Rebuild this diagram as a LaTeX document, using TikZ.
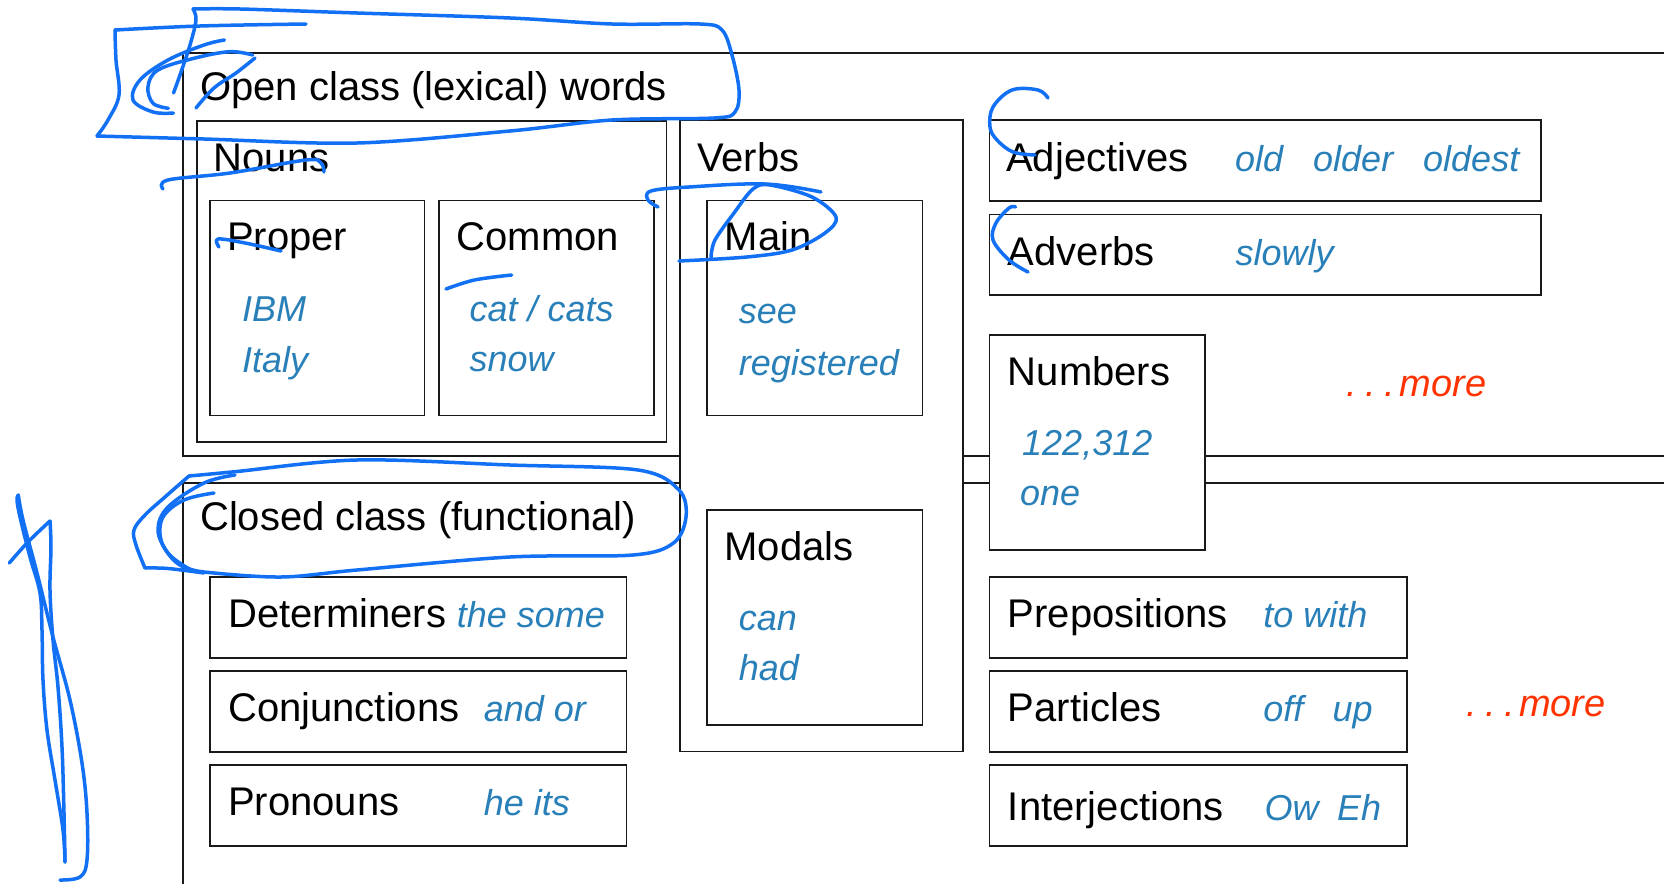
\documentclass[tikz,border=0pt]{standalone}
\usepackage{fontspec}
\setmainfont{Liberation Sans}
\definecolor{exblue}{RGB}{41,128,185}
\definecolor{penblue}{RGB}{18,112,245}
\definecolor{morered}{RGB}{255,51,0}
\tikzset{
  box/.style={draw=black!90, line width=1.6bp, fill=white, inner sep=0pt, outer sep=0pt, anchor=north west},
  frame/.style={draw=black!90, line width=1.6bp},
  lbl/.style={anchor=base west, inner sep=0pt, font=\fontsize{40bp}{48bp}\selectfont},
  ex/.style={anchor=base west, inner sep=0pt, text=exblue, font=\fontsize{36bp}{43bp}\selectfont\itshape},
  moretext/.style={anchor=base west, inner sep=0pt, text=morered, font=\fontsize{38bp}{45bp}\selectfont\itshape},
  pen/.style={draw=penblue, line width=3.5bp, line cap=round, line join=round},
}
\newcommand{\moredots}{.\hspace{0.22em}.\hspace{0.22em}.\hspace{0.12em}more}
\begin{document}
\begin{tikzpicture}[x=1bp,y=-1bp]
\fill[white] (0,0) rectangle (1664,883);
\useasboundingbox (0,0) rectangle (1664,883);

% outer class frames
\draw[frame] (1690,52.7) -- (183,52.7) -- (183,456) -- (1690,456);
\draw[frame] (1690,482.7) -- (183,482.7) -- (183,900);

% boxes
\node[box, minimum width=469.5bp, minimum height=320.7bp] (nouns) at (197,121) {};
\node[box, minimum width=214.5bp, minimum height=214.8bp] (proper) at (210,200.6) {};
\node[box, minimum width=215.2bp, minimum height=214.8bp] (common) at (438.8,200.6) {};
\node[box, minimum width=282.7bp, minimum height=631.3bp] (verbs) at (680,120) {};
\node[box, minimum width=215.3bp, minimum height=214.8bp] (main) at (707,200.6) {};
\node[box, minimum width=215.3bp, minimum height=215bp] (modals) at (707,510) {};
\node[box, minimum width=551.4bp, minimum height=81bp] (adj) at (989.3,120) {};
\node[box, minimum width=551.4bp, minimum height=80.7bp] (adv) at (989.3,214.3) {};
\node[box, minimum width=215.7bp, minimum height=215bp] (num) at (989.3,335) {};
\node[box, minimum width=417.5bp, minimum height=81bp] (prep) at (989.3,576.7) {};
\node[box, minimum width=417.5bp, minimum height=81bp] (part) at (989.3,670.7) {};
\node[box, minimum width=417.5bp, minimum height=81bp] (interj) at (989.3,765) {};
\node[box, minimum width=416.3bp, minimum height=81bp] (det) at (210.2,576.7) {};
\node[box, minimum width=416.3bp, minimum height=81bp] (conj) at (210.2,670.7) {};
\node[box, minimum width=416.3bp, minimum height=81bp] (pron) at (210.2,765) {};

% labels
\node[lbl] (tOpen) at (200,100.5) {Open class (lexical) words};
\node[lbl] (tNouns) at (213.5,171) {Nouns};
\node[lbl] (tVerbs) at (697,171) {Verbs};
\node[lbl] (tProper) at (227,250) {Proper};
\node[lbl] (tCommon) at (456.5,250) {Common};
\node[lbl] (tMain) at (724.5,250) {Main};
\node[ex] (eIBM) at (242,321.7) {IBM};
\node[ex] (eItaly) at (242,372.7) {Italy};
\node[ex] (eCat) at (469.4,321.7) {cat / cats};
\node[ex] (eSnow) at (469.4,371.7) {snow};
\node[ex] (eSee) at (738.6,323.3) {see};
\node[ex] (eReg) at (738.6,375) {registered};
\node[lbl] (tAdj) at (1006,171.7) {Adjectives};
\node[ex] (eOld) at (1235,171.7) {old};
\node[ex] (eOlder) at (1313,171.7) {older};
\node[ex] (eOldest) at (1423,171.7) {oldest};
\node[lbl] (tAdv) at (1007.7,265) {Adverbs};
\node[ex] (eSlowly) at (1235.4,265) {slowly};
\node[lbl] (tNum) at (1007.7,385) {Numbers};
\node[ex] (eNum) at (1022,455) {122,312};
\node[ex] (eOne) at (1020,505) {one};
\node[moretext] (more1) at (1346.7,396.7) {\moredots};
\node[lbl] (tClosed) at (200,530) {Closed class (functional)};
\node[lbl] (tDet) at (228,627) {Determiners};
\node[ex] (eDet) at (456.6,627) {the some};
\node[lbl] (tConj) at (228,721.7) {Conjunctions};
\node[ex] (eConj) at (483.7,721.7) {and or};
\node[lbl] (tPron) at (228,815) {Pronouns};
\node[ex] (ePron) at (483.7,815) {he its};
\node[lbl] (tModals) at (724.4,560) {Modals};
\node[ex] (eCan) at (738.6,630) {can};
\node[ex] (eHad) at (738.6,680) {had};
\node[lbl] (tPrep) at (1007.7,627) {Prepositions};
\node[ex] (ePrep) at (1263.2,627) {to with};
\node[lbl] (tPart) at (1007.7,721.7) {Particles};
\node[ex] (eOff) at (1263.2,721.7) {off};
\node[ex] (eUp) at (1332.4,721.7) {up};
\node[lbl] (tInterj) at (1007.7,820) {Interjections};
\node[ex] (eOw) at (1264.5,820) {Ow};
\node[ex] (eEh) at (1337,820) {Eh};
\node[moretext] (more2) at (1466,716.7) {\moredots};

% hand-drawn pen annotations
% open class loop
\draw[pen] plot[smooth, tension=0.6] coordinates {(173.5,93) (180,75) (190,45) (196,20) (193,9)};
\draw[pen] plot[smooth, tension=0.55] coordinates {(193,9) (240,9) (357,13) (510,18) (612,24) (700,24) (722,30) (732,55) (739,90) (735,112) (714,118) (612,120) (510,131) (357,143) (204,139) (97,136)};
\draw[pen] plot[smooth, tension=0.6] coordinates {(97,136) (108,120) (119,95) (116,60) (115,30)};
\draw[pen] plot[smooth, tension=0.6] coordinates {(115,30) (200,26) (306,24)};
\draw[pen] plot[smooth, tension=0.6] coordinates {(224.5,40) (204,45) (168,60) (140,80) (133,100) (153,112) (173.5,113)};
\draw[pen] plot[smooth, tension=0.6] coordinates {(252.6,55) (229.6,51.7) (194,58.3) (158,70) (148,86.7) (153,103.3) (168.4,108.3)};
\draw[pen] plot[smooth, tension=0.6] coordinates {(255,58) (236,73) (214,88) (196,108)};
% nouns, proper, common
\draw[pen] plot[smooth, tension=0.6] coordinates {(163,189) (168,180) (230,173) (306,160) (321,163) (324,172)};
\draw[pen] plot[smooth, tension=0.6] coordinates {(219,247) (218,239) (245,243) (281,251)};
\draw[pen] plot[smooth, tension=0.6] coordinates {(446,289) (474.5,280) (511.7,275)};
% main
\draw[pen] plot[smooth, tension=0.6] coordinates {(658,207) (648,200) (651,191) (689,187) (765,184) (821,192)};
\draw[pen] plot[smooth, tension=0.55] coordinates {(711,257) (715,240) (734,213) (753,189) (770,185) (812,197) (836,217) (825,233) (792,250) (747,257) (679,261)};
% adjectives, adverbs
\draw[pen] plot[smooth, tension=0.6] coordinates {(1048,98) (1038,90) (1012,90) (993,107) (990,127) (997,140) (1013,152) (1035,155)};
\draw[pen] plot[smooth, tension=0.6] coordinates {(1015.5,207) (1009,208) (996,223) (993,240) (1009,260) (1028,272)};
% closed class loop
\draw[pen] plot[smooth, tension=0.55] coordinates {(189,476) (235,471.7) (357,460) (510,465) (638,470) (679,490) (686,517) (673.5,543) (633,555) (510,557) (357,570) (281,577) (204,572) (186,567)};
\draw[pen] plot[smooth, tension=0.6] coordinates {(189,476) (165,497) (145,515) (134,530) (136,545) (145,568)};
\draw[pen] plot[smooth, tension=0.6] coordinates {(145,568) (168,568.5) (204,573)};
\draw[pen] plot[smooth, tension=0.6] coordinates {(235,475) (204,483) (168,507) (158,530) (168,553) (186,567)};
\draw[pen] plot[smooth, tension=0.6] coordinates {(214,493) (184,500) (163,517) (161,540) (173.5,560) (189,570)};
% left vertical scribble
\draw[pen] plot[smooth, tension=0.6] coordinates {(9.3,563) (28,542) (50,521)};
\draw[pen] plot[smooth, tension=0.6] coordinates {(50,521) (51,547) (50,590) (53,640) (58,687) (62,747) (64,813) (65,862)};
\draw[pen] plot[smooth, tension=0.6] coordinates {(65,862) (63,830) (55,780) (47,730) (43,680) (42,630) (40,593) (30,557) (20,517) (17,500) (18.3,495)};
\draw[pen] plot[smooth, tension=0.6] coordinates {(18.3,495) (23,520) (37,573) (53,637) (70,700) (82,763) (87,813) (87,860) (80,877) (60,880)};
\end{tikzpicture}
\end{document}
